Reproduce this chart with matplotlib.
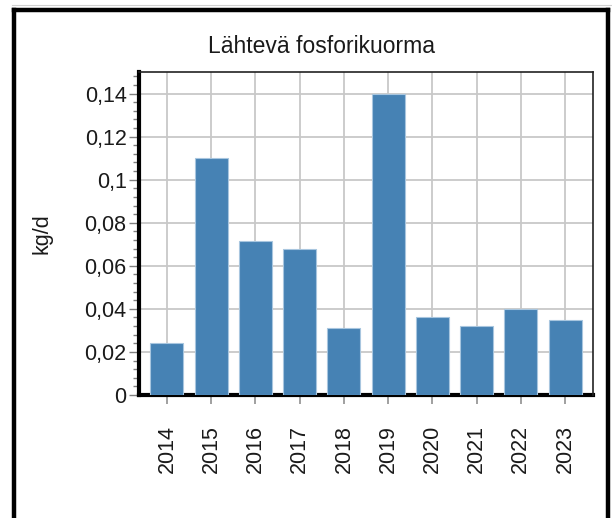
import matplotlib
matplotlib.use("Agg")
import matplotlib.pyplot as plt
from matplotlib.ticker import MultipleLocator, FixedLocator, FixedFormatter
from matplotlib.lines import Line2D

years = ["2014", "2015", "2016", "2017", "2018", "2019", "2020", "2021", "2022", "2023"]
values = [0.024, 0.110, 0.0715, 0.068, 0.031, 0.140, 0.036, 0.032, 0.040, 0.0348]
ytick_values = [0, 0.02, 0.04, 0.06, 0.08, 0.10, 0.12, 0.14]
ytick_labels = ["0", "0,02", "0,04", "0,06", "0,08", "0,1", "0,12", "0,14"]
title = "Lähtevä fosforikuorma"
ylabel = "kg/d"

plt.rcParams['font.family'] = ['Liberation Sans', 'DejaVu Sans']

fig = plt.figure(figsize=(6.12, 5.18), dpi=100)
fig.patch.set_facecolor('white')
ax = fig.add_axes([139/612, 1-395/518, (593-139)/612, (395-72)/518])

x = list(range(len(years)))
ax.bar(x, values, width=0.75, color='#4682B4', edgecolor='#a8c6df', linewidth=0.8, zorder=3)

ax.set_xlim(-0.63, len(years) - 1 + 0.63)
ax.set_ylim(0, 0.15)

ax.yaxis.set_major_locator(FixedLocator(ytick_values))
ax.yaxis.set_major_formatter(FixedFormatter(ytick_labels))
ax.yaxis.set_minor_locator(MultipleLocator(0.004))
ax.set_xticks(x)
ax.set_xticklabels(years, rotation=90)

ax.grid(True, which='major', color='#c8c8c8', linewidth=1.3, zorder=0)
ax.set_axisbelow(True)

ax.tick_params(axis='y', which='major', direction='out', length=7, width=1.0,
               color='#808080', labelsize=15.5, labelcolor='#1a1a1a', pad=2)
ax.tick_params(axis='y', which='minor', direction='out', length=4, width=1.0, color='#808080')
ax.tick_params(axis='x', which='major', direction='out', length=6.5, width=1.2,
               color='#909090', labelsize=15.5, labelcolor='#1a1a1a', pad=15)

for side in ['top', 'right']:
    ax.spines[side].set_linewidth(1.2)
    ax.spines[side].set_color('#222222')
for side in ['left', 'bottom']:
    ax.spines[side].set_linewidth(3.0)
    ax.spines[side].set_color('black')
    ax.spines[side].set_zorder(2)

ax.set_ylabel(ylabel, fontsize=15.5, color='#1a1a1a')
ax.yaxis.set_label_coords(-0.19, 0.5)

fig.text(322/612, 1-53/518, title, fontsize=16.5, ha='center', va='baseline', color='#1a1a1a')

# outer frame
lw = 3.2
fig.add_artist(Line2D([14/612, 14/612], [-0.05, 1-10/518], transform=fig.transFigure, color='black', linewidth=lw))
fig.add_artist(Line2D([14/612, 608/612], [1-10/518, 1-10/518], transform=fig.transFigure, color='black', linewidth=lw, solid_capstyle='projecting'))
fig.add_artist(Line2D([608/612, 608/612], [-0.05, 1-10/518], transform=fig.transFigure, color='black', linewidth=lw))
fig.add_artist(Line2D([12/612, 612/612], [1-5/518, 1-5/518], transform=fig.transFigure, color='#d0d0d0', linewidth=0.8))

fig.savefig("out.png", dpi=100)
